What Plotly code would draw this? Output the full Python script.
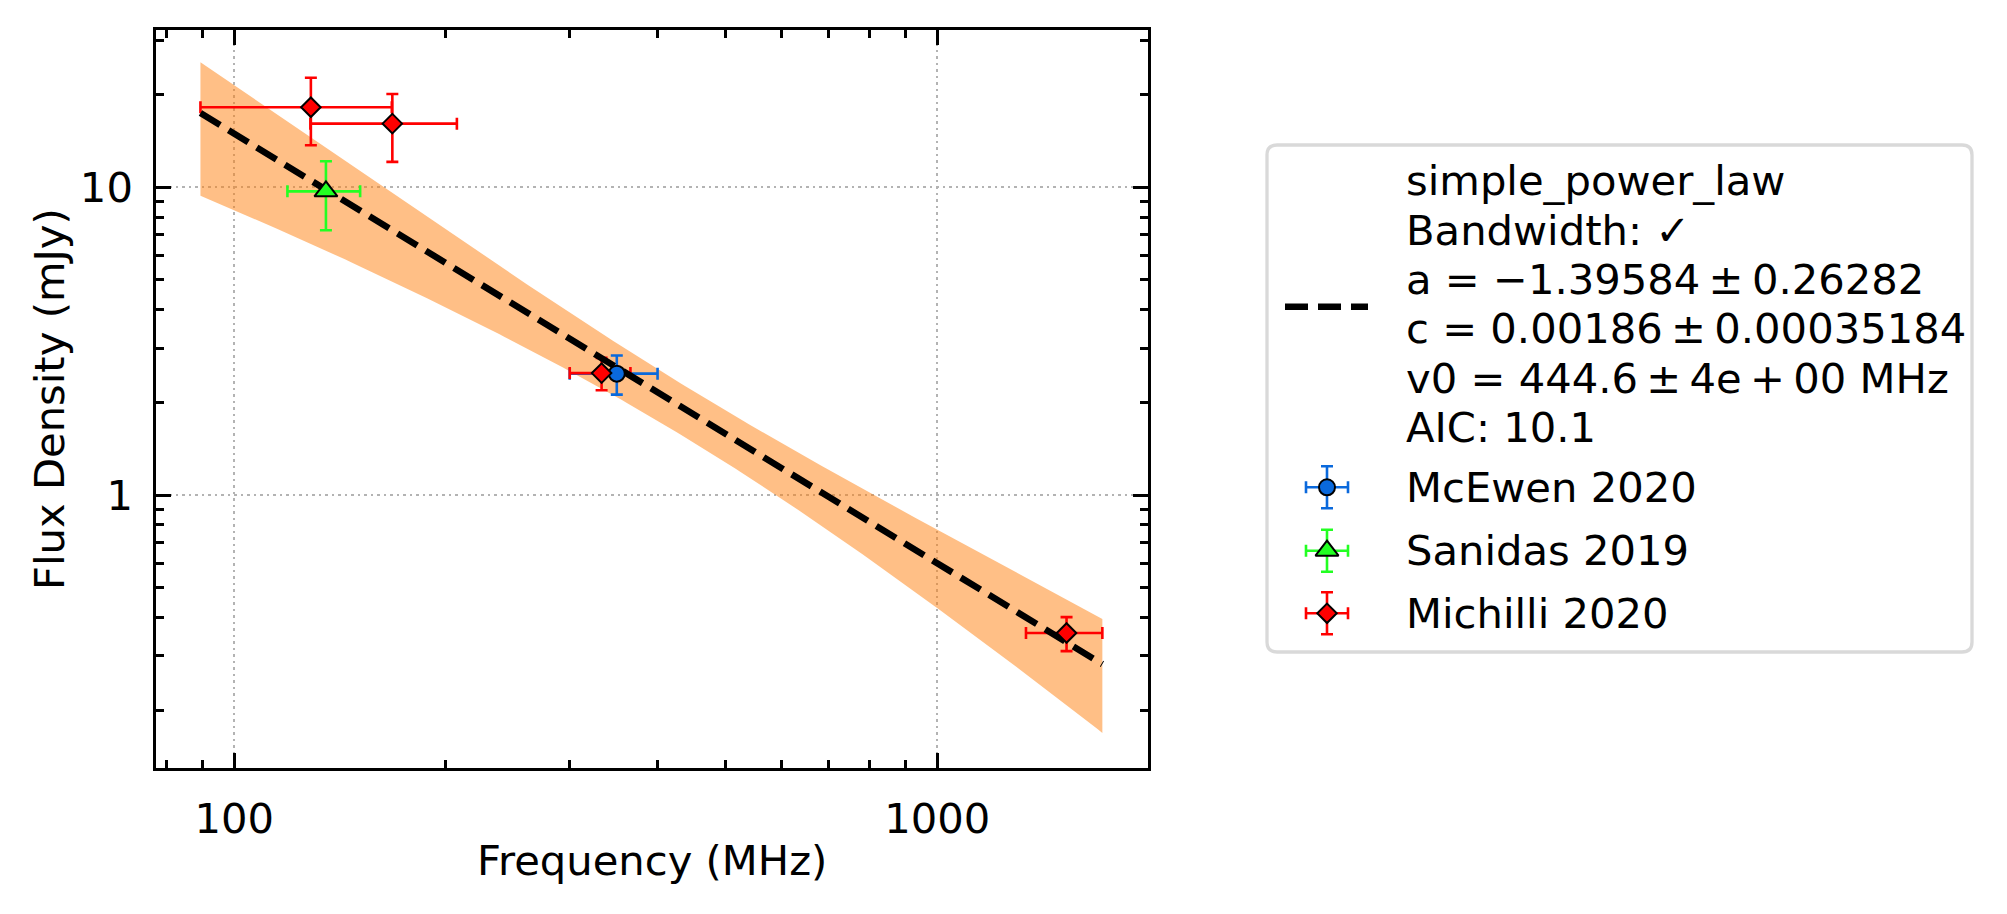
import numpy as np
import plotly.graph_objects as go

# ---------------- data ----------------
mcewen_freq = [350.0]
mcewen_freq_err = [50.0]
mcewen_flux = [2.48]
mcewen_flux_err = [0.36]

sanidas_freq = [135.0]
sanidas_freq_err = [16.0]
sanidas_flux = [9.7]
sanidas_flux_err = [2.45]

michilli_freq = [128.5, 167.8, 333.0, 1527.0]
michilli_freq_err = [39.0, 39.5, 33.0, 190.0]
michilli_flux = [18.2, 16.1, 2.49, 0.356]
michilli_flux_err = [4.5, 4.0, 0.30, 0.045]

# fit parameters shown in the legend
fit_a, fit_a_err = -1.39584, 0.26282
fit_c, fit_c_err = 0.00186, 0.00035184   # Jy
fit_v0 = 444.6                            # MHz
fit_aic = 10.1

x_tick_vals = [100, 1000]
x_tick_text = ["100", "1000"]
y_tick_vals = [1, 10]
y_tick_text = ["1", "10"]
x_minor_vals = [80, 90, 200, 300, 400, 500, 600, 700, 800, 900]
y_minor_vals = [0.2, 0.3, 0.4, 0.5, 0.6, 0.7, 0.8, 0.9,
                2, 3, 4, 5, 6, 7, 8, 9, 20, 30]

# ---------------- model curve from the fit parameters ----------------
all_f = np.array(mcewen_freq + sanidas_freq + michilli_freq)
all_fe = np.array(mcewen_freq_err + sanidas_freq_err + michilli_freq_err)
f_lo = float(np.min(all_f - all_fe))
f_hi = float(np.max(all_f + all_fe))
nu = np.logspace(np.log10(f_lo), np.log10(f_hi), 200)
model = fit_c * (nu / fit_v0) ** fit_a * 1000.0  # mJy
sig = np.sqrt((model * np.log(nu / fit_v0) * fit_a_err) ** 2 +
              (model / fit_c * fit_c_err) ** 2)
band_hi = model + sig
band_lo = model - sig

# ---------------- layout geometry (pixels) ----------------
W, H = 2007, 914
PL, PR, PT, PB = 156, 1148, 30, 768
FONT = "DejaVu Sans"
FS = 41.7

blue = "#0a69dc"
green = "#22ff22"
red = "#ff0000"

SIZES = {"circle": 16, "triangle-up": 20, "diamond": 15}

series = [
    (mcewen_freq, mcewen_freq_err, mcewen_flux, mcewen_flux_err, blue, "circle"),
    (sanidas_freq, sanidas_freq_err, sanidas_flux, sanidas_flux_err, green, "triangle-up"),
    (michilli_freq, michilli_freq_err, michilli_flux, michilli_flux_err, red, "diamond"),
]

fig = go.Figure()

# uncertainty band
fig.add_trace(go.Scatter(x=nu, y=band_lo, mode="lines", line=dict(width=0),
                         showlegend=False, hoverinfo="skip"))
fig.add_trace(go.Scatter(x=nu, y=band_hi, mode="lines", line=dict(width=0),
                         fill="tonexty", fillcolor="rgba(255,127,14,0.5)",
                         showlegend=False, hoverinfo="skip"))


def bars_trace(x, xe, y, ye, color, xa="x", ya="y"):
    return go.Scatter(
        x=x, y=y, mode="markers", xaxis=xa, yaxis=ya,
        marker=dict(color=color, size=1, opacity=0),
        error_x=dict(type="data", array=xe, color=color, thickness=2.6, width=6),
        error_y=dict(type="data", array=ye, color=color, thickness=2.6, width=6),
        showlegend=False, hoverinfo="skip", cliponaxis=False)


def marker_trace(x, y, color, symbol, xa="x", ya="y"):
    return go.Scatter(
        x=x, y=y, mode="markers", xaxis=xa, yaxis=ya,
        marker=dict(color=color, symbol=symbol, size=SIZES[symbol],
                    line=dict(color="black", width=2)),
        showlegend=False, hoverinfo="skip", cliponaxis=False)


# error bars (below the fit line)
for fx, fxe, fy, fye, col, sym in series:
    fig.add_trace(bars_trace(fx, fxe, fy, fye, col))

# fit line
fig.add_trace(go.Scatter(x=nu, y=model, mode="lines",
                         line=dict(color="black", width=6.5, dash="23px,10px"),
                         showlegend=False, hoverinfo="skip"))

# markers (above the fit line)
for fx, fxe, fy, fye, col, sym in series:
    fig.add_trace(marker_trace(fx, fy, col, sym))

# ---------------- custom legend on a pixel overlay axis ----------------
LX0, LY0, LX1, LY1 = 1267, 145, 1972, 652
HX0, HX1 = 1285, 1368
MX = 1327
TX = 1404
fit_lines = [
    "simple_power_law",
    "Bandwidth: \u2713",
    f"a = \u2212{abs(fit_a):.5f}\u2009\u00b1\u2009{fit_a_err:.5f}",
    f"c = {fit_c:.5f}\u2009\u00b1\u2009{fit_c_err:.8f}",
    f"v0 = {fit_v0:.1f}\u2009\u00b1\u20094e\u2009+\u200900 MHz",
    f"AIC: {fit_aic:.1f}",
]
line_centers = [180.6 + 49.4 * i for i in range(len(fit_lines))]
handle_y = 306.7
entry_y = [487.3, 550.7, 613.3]
entry_names = ["McEwen 2020", "Sanidas 2019", "Michilli 2020"]

fig.add_trace(go.Scatter(x=[HX0, HX1], y=[handle_y, handle_y], mode="lines",
                         xaxis="x2", yaxis="y2",
                         line=dict(color="black", width=6.5, dash="23px,10px"),
                         showlegend=False, hoverinfo="skip"))
for (fx, fxe, fy, fye, col, sym), yy in zip(series, entry_y):
    fig.add_trace(bars_trace([MX], [21], [yy], [21], col, "x2", "y2"))
    fig.add_trace(marker_trace([MX], [yy], col, sym, "x2", "y2"))

annotations = []
for txt, yy in zip(fit_lines, line_centers):
    annotations.append(dict(x=TX, y=yy, xref="x2", yref="y2", text=txt,
                            showarrow=False, xanchor="left", yanchor="middle",
                            font=dict(family=FONT, size=FS, color="black")))
for txt, yy in zip(entry_names, entry_y):
    annotations.append(dict(x=TX, y=yy, xref="x2", yref="y2", text=txt,
                            showarrow=False, xanchor="left", yanchor="middle",
                            font=dict(family=FONT, size=FS, color="black")))
# axis titles
annotations.append(dict(x=(PL + PR) / 2, y=860, xref="x2", yref="y2",
                        text="Frequency (MHz)", showarrow=False,
                        xanchor="center", yanchor="middle",
                        font=dict(family=FONT, size=FS, color="black")))
annotations.append(dict(x=49, y=(PT + PB) / 2, xref="x2", yref="y2",
                        text="Flux Density (mJy)", showarrow=False, textangle=-90,
                        xanchor="center", yanchor="middle",
                        font=dict(family=FONT, size=FS, color="black")))

r = 10
box_path = (f"M {LX0 + r},{LY0} L {LX1 - r},{LY0} Q {LX1},{LY0} {LX1},{LY0 + r} "
            f"L {LX1},{LY1 - r} Q {LX1},{LY1} {LX1 - r},{LY1} "
            f"L {LX0 + r},{LY1} Q {LX0},{LY1} {LX0},{LY1 - r} "
            f"L {LX0},{LY0 + r} Q {LX0},{LY0} {LX0 + r},{LY0} Z")
shapes = [dict(type="path", path=box_path, xref="x2", yref="y2",
               line=dict(color="#d9d9d9", width=3.3), fillcolor="white",
               layer="below")]

axis_common = dict(
    showline=True, linecolor="black", linewidth=2.5, mirror="allticks",
    ticks="inside", ticklen=15, tickwidth=2.5, tickcolor="black",
    showgrid=True, gridcolor="#b3b3b3", gridwidth=2, griddash="2.5px,4px",
    zeroline=False, tickfont=dict(family=FONT, size=FS, color="black"),
    tickmode="array", fixedrange=True,
)

fig.update_layout(
    width=W, height=H,
    margin=dict(l=0, r=0, t=0, b=0, pad=0),
    paper_bgcolor="white", plot_bgcolor="rgba(0,0,0,0)",
    showlegend=False,
    font=dict(family=FONT, size=FS, color="black"),
    xaxis=dict(type="log", domain=[PL / W, PR / W],
               range=[1.8886, 3.2997], tickvals=x_tick_vals, ticktext=x_tick_text,
               ticklabelstandoff=12,
               minor=dict(tickvals=x_minor_vals, ticks="inside", ticklen=8,
                          tickwidth=2.5, tickcolor="black", showgrid=False),
               anchor="y", **axis_common),
    yaxis=dict(type="log", domain=[1 - PB / H, 1 - PT / H],
               range=[-0.8872, 1.5112], tickvals=y_tick_vals, ticktext=y_tick_text,
               ticklabelstandoff=12,
               minor=dict(tickvals=y_minor_vals, ticks="inside", ticklen=8,
                          tickwidth=2.5, tickcolor="black", showgrid=False),
               anchor="x", **axis_common),
    xaxis2=dict(domain=[0, 1], range=[0, W], visible=False, fixedrange=True,
                anchor="y2"),
    yaxis2=dict(domain=[0, 1], range=[H, 0], visible=False, fixedrange=True,
                anchor="x2"),
    annotations=annotations,
    shapes=shapes,
)

fig.write_html("out.html")
